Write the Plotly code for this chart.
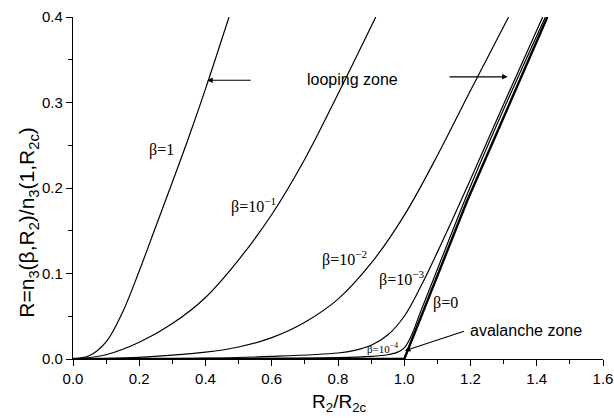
import plotly.graph_objects as go

# ---- data ----
b1_x = [0.0, 0.05, 0.1, 0.15, 0.2, 0.25, 0.3, 0.35, 0.4, 0.471]
b1_y = [0.0, 0.004, 0.020, 0.055, 0.103, 0.155, 0.207, 0.260, 0.316, 0.40]

b01_x = [0.0, 0.1, 0.2, 0.3, 0.4, 0.5, 0.6, 0.7, 0.8, 0.914]
b01_y = [0.0, 0.005, 0.0195, 0.0415, 0.072, 0.116, 0.169, 0.234, 0.310, 0.40]

b001_x = [0.0, 0.2, 0.4, 0.5, 0.6, 0.7, 0.8, 0.9, 1.0, 1.1, 1.2, 1.315]
b001_y = [0.0, 0.002, 0.008, 0.014, 0.025, 0.043, 0.070, 0.112, 0.168, 0.238, 0.314, 0.40]

b0001_x = [0.0, 0.4, 0.6, 0.8, 0.85, 0.9, 0.95, 1.0, 1.05, 1.1, 1.15, 1.2, 1.3, 1.418]
b0001_y = [0.0, 0.001, 0.003, 0.007, 0.010, 0.016, 0.028, 0.050, 0.085, 0.125, 0.167, 0.210, 0.298, 0.40]

b00001_x = [0.0, 0.5, 0.8, 0.9, 0.95, 0.98, 1.0, 1.02, 1.05, 1.1, 1.2, 1.3, 1.426]
b00001_y = [0.0, 0.0005, 0.0015, 0.003, 0.005, 0.008, 0.013, 0.026, 0.056, 0.105, 0.202, 0.292, 0.40]

b0_x = [0.0, 1.0, 1.19, 1.432]
b0_y = [0.0, 0.0, 0.185, 0.40]

x_ticks = [0.0, 0.2, 0.4, 0.6, 0.8, 1.0, 1.2, 1.4, 1.6]
y_ticks = [0.0, 0.1, 0.2, 0.3, 0.4]

labels = [
    ("β=1", 0.267, 0.244, 16),
    ("β=10<sup>−1</sup>", 0.545, 0.180, 16),
    ("β=10<sup>−2</sup>", 0.820, 0.117, 16),
    ("β=10<sup>−3</sup>", 0.993, 0.094, 16),
    ("β=0", 1.126, 0.065, 16),
    ("β=10<sup>−4</sup>", 0.935, 0.013, 11),
]

fig = go.Figure()
thin = dict(color="black", width=1.2, shape="spline", smoothing=1.0)
for xs, ys in [(b1_x, b1_y), (b01_x, b01_y), (b001_x, b001_y),
               (b0001_x, b0001_y), (b00001_x, b00001_y)]:
    fig.add_trace(go.Scatter(x=xs, y=ys, mode="lines", line=thin,
                             showlegend=False, hoverinfo="skip"))
fig.add_trace(go.Scatter(x=b0_x, y=b0_y, mode="lines",
                         line=dict(color="black", width=2.4),
                         showlegend=False, hoverinfo="skip"))

for txt, x, y, s in labels:
    fig.add_annotation(x=x, y=y, text=txt, showarrow=False,
                       font=dict(family="Liberation Serif", size=s, color="black"))

sans = dict(family="Liberation Sans, Arial", size=16, color="black")
fig.add_annotation(x=0.844, y=0.327, text="looping zone", showarrow=False, font=sans)
fig.add_annotation(x=1.192, y=0.033, text="avalanche zone", showarrow=False,
                   xanchor="left", font=sans)
# arrows
for (tx, ty, hx, hy) in [(0.541, 0.326, 0.405, 0.326),
                         (1.132, 0.330, 1.312, 0.330),
                         (1.185, 0.033, 1.002, 0.0097)]:
    fig.add_annotation(x=hx, y=hy, ax=tx, ay=ty, xref="x", yref="y",
                       axref="x", ayref="y", text="", showarrow=True,
                       arrowhead=2, arrowsize=1, arrowwidth=1.1, arrowcolor="black")

fig.add_annotation(xref="paper", yref="paper", x=-0.084, y=0.40, textangle=-90,
                   xanchor="center", yanchor="middle",
                   text="R=n<sub>3</sub>(β,R<sub>2</sub>)/n<sub>3</sub>(1,R<sub>2c</sub>)",
                   showarrow=False,
                   font=dict(family="Liberation Sans, Arial", size=21, color="black"))
fig.add_annotation(xref="paper", yref="paper", x=0.502, y=-0.13,
                   xanchor="center", yanchor="middle",
                   text="R<sub>2</sub>/R<sub>2c</sub>", showarrow=False,
                   font=dict(family="Liberation Sans, Arial", size=19, color="black"))

axis_common = dict(showline=True, linecolor="black", linewidth=1.3, ticks="outside",
                   tickcolor="black", ticklen=6, tickwidth=1.2, showgrid=False,
                   zeroline=False, mirror=False, automargin=False,
                   ticklabeloverflow="allow",
                   tickfont=dict(family="Liberation Sans, Arial", size=15, color="black"))

fig.update_xaxes(range=[0, 1.6], tickvals=x_ticks,
                 ticktext=[f"{v:.1f}" for v in x_ticks],
                 minor=dict(ticks="outside", ticklen=4, tickcolor="black", dtick=0.1, tick0=0),
                 **axis_common)
fig.update_yaxes(range=[0, 0.4], tickvals=y_ticks,
                 ticktext=[f"{v:.1f}" for v in y_ticks],
                 minor=dict(ticks="outside", ticklen=4, tickcolor="black", dtick=0.05, tick0=0),
                 **axis_common)

fig.update_layout(width=614, height=418, plot_bgcolor="white", paper_bgcolor="white",
                  margin=dict(l=73, r=11, t=17, b=59), showlegend=False)

# remove the page's default body margin so the 614x418 figure fills the window
fig.write_html("out.html", config={"displayModeBar": False},
               post_script="document.body.style.margin='0';document.body.style.overflow='hidden';")
